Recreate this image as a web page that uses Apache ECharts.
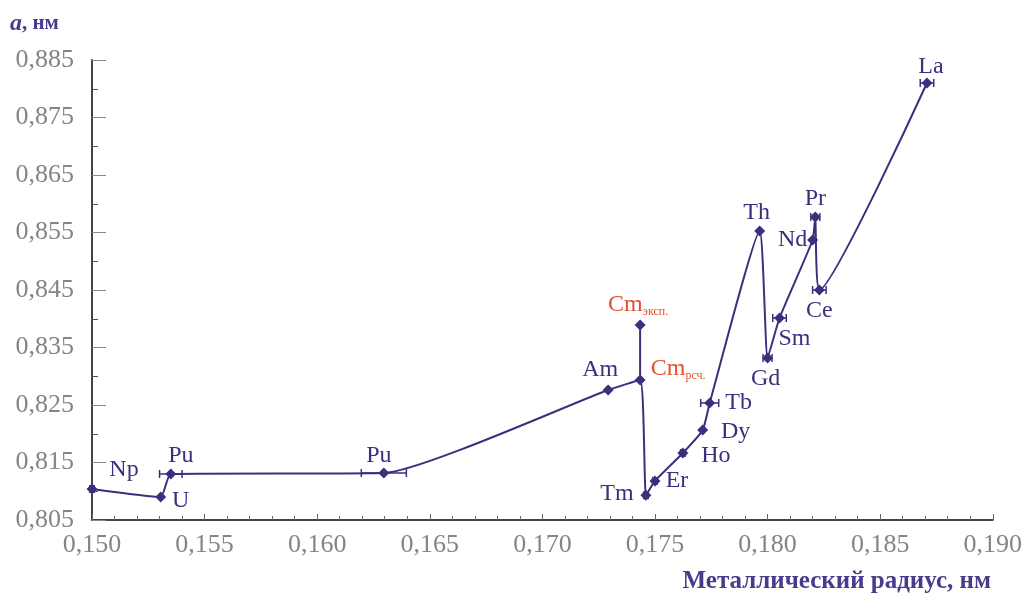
<!DOCTYPE html>
<html>
<head>
<meta charset="utf-8">
<script src="https://cdn.jsdelivr.net/npm/echarts@6/dist/echarts.min.js"></script>
<style>html,body{margin:0;padding:0;background:#fff}#c{width:1025px;height:598px}</style>
</head>
<body>
<div id="c"></div>
<script>
// ---- data ----
const names = ['Np','U','Pu','Pu','Am','Cm_calc','Tm','Er','Ho','Dy','Tb','Th','Gd','Sm','Nd','Pr','Ce','La'];
const radius = [0.1500,0.15305,0.1535,0.16296,0.17292,0.17434,0.1746,0.1750,0.17624,0.17712,0.17743,0.17965,0.1800,0.18053,0.1820,0.18212,0.1823,0.18708];
const latticeA = [0.8104,0.8090,0.8130,0.81317,0.82761,0.82935,0.8093,0.8118,0.81665,0.82065,0.82535,0.85526,0.83317,0.84013,0.8537,0.8577,0.8450,0.8810];
const radiusErr = [0.0001,0,0.0005,0.0010,0,0,0.0001,0.0001,0.0001,0,0.0004,0,0.0002,0.0003,0,0.0002,0.0003,0.0003];
const cmExpRadius = 0.17434;
const cmExpA = 0.83891;
const xTicks = {min:0.150,max:0.190,step:0.005};
const yTicks = {min:0.805,max:0.885,step:0.010};

// ---- styles (positions of labels relative to points) ----
const labelOffsets = {
  Np:[32,-19], U:[20,4], Pu0:[10,-18], Pu1:[-5,-17], Am:[-8,-20], Cm_calc:[38,-11],
  Tm:[-29,-2], Er:[22,0], Ho:[33,3], Dy:[33,2], Tb:[29,0], Th:[-3,-18], Gd:[-2,21],
  Sm:[15,21], Nd:[-20,0], Pr:[0,-18], Ce:[0,21], La:[4,-16]
};
const ink = '#3b2f7e';
const red = '#e2502a';
const serif = '"Liberation Serif","DejaVu Serif",serif';
const LFS = 24;

let puCount = 0;
const richCm = {m:{color:red,fontFamily:serif,fontSize:LFS}, s:{color:red,fontFamily:serif,fontSize:12,padding:[14,0,0,0]}};
const mainData = names.map((n,i)=>{
  let key = n;
  if (n==='Pu') { key = 'Pu'+puCount; puCount++; }
  const off = labelOffsets[key] || [0,-16];
  const isCm = n==='Cm_calc';
  return {
    value:[radius[i], latticeA[i]],
    label:{
      show:true, position:'inside', offset:off,
      formatter: isCm ? '{m|Cm}{s|рсч.}' : n,
      color: isCm ? red : ink,
      fontFamily: serif, fontSize: LFS,
      rich: isCm ? richCm : undefined
    }
  };
});

const fmt = v => v.toFixed(3).replace('.',',');

const errData = radius.map((r,i)=>[r, latticeA[i], radiusErr[i]]).filter(d=>d[2]>0);

const chart = echarts.init(document.getElementById('c'), null, {renderer:'canvas'});
chart.setOption({
  animation:false,
  backgroundColor:'#fff',
  grid:{left:92, right:32, top:60, bottom:78, containLabel:false},
  xAxis:{
    type:'value', min:xTicks.min, max:xTicks.max, interval:xTicks.step,
    axisLine:{show:true, onZero:false, lineStyle:{color:'#444', width:2}},
    axisTick:{show:true, inside:true, length:6, lineStyle:{color:'#666'}},
    minorTick:{show:true, splitNumber:5, length:4, lineStyle:{color:'#666'}},
    splitLine:{show:false},
    axisLabel:{formatter:fmt, color:'#858585', fontFamily:serif, fontSize:26, margin:12}
  },
  yAxis:{
    type:'value', min:yTicks.min, max:yTicks.max, interval:yTicks.step,
    axisLine:{show:true, onZero:false, lineStyle:{color:'#444', width:2}},
    axisTick:{show:true, inside:true, length:14, lineStyle:{color:'#888'}},
    minorTick:{show:true, splitNumber:2, length:6, lineStyle:{color:'#555'}},
    splitLine:{show:false},
    axisLabel:{formatter:fmt, color:'#858585', fontFamily:serif, fontSize:26, margin:18}
  },
  graphic:[
    {type:'text', left:10, top:12, style:{
      text:'{i|a}{b|, нм}', rich:{
        i:{fontFamily:serif, fontStyle:'italic', fontWeight:'bold', fontSize:24, fill:'#4a3a8c'},
        b:{fontFamily:serif, fontWeight:'bold', fontSize:21, fill:'#4a3a8c'}
      }}},
    {type:'text', right:34, top:569, style:{
      text:'Металлический радиус, нм', fontFamily:serif, fontWeight:'bold', fontSize:25, fill:'#4a3a8c'}}
  ],
  series:[
    {
      type:'line', data:mainData, smooth:0.15,
      symbol:'diamond', symbolSize:11,
      lineStyle:{color:ink, width:2}, itemStyle:{color:ink},
      z:3
    },
    {
      type:'line',
      data:[
        {value:[cmExpRadius, cmExpA], label:{show:true, position:'inside', offset:[-2,-20],
          formatter:'{m|Cm}{s|эксп.}', rich:richCm}},
        {value:[radius[5], latticeA[5]], symbol:'none'}
      ],
      symbol:'diamond', symbolSize:11,
      lineStyle:{color:ink, width:2}, itemStyle:{color:ink}, z:3
    },
    {
      type:'custom', data:errData, z:4,
      renderItem:(params, api)=>{
        const y = api.value(1), x = api.value(0), e = api.value(2);
        const p1 = api.coord([x-e, y]), p2 = api.coord([x+e, y]);
        const cap = 4;
        return {type:'group', children:[
          {type:'line', shape:{x1:p1[0],y1:p1[1],x2:p2[0],y2:p2[1]}, style:{stroke:ink, lineWidth:1.5}},
          {type:'line', shape:{x1:p1[0],y1:p1[1]-cap,x2:p1[0],y2:p1[1]+cap}, style:{stroke:ink, lineWidth:1.5}},
          {type:'line', shape:{x1:p2[0],y1:p2[1]-cap,x2:p2[0],y2:p2[1]+cap}, style:{stroke:ink, lineWidth:1.5}}
        ]};
      }
    }
  ]
});
</script>
</body>
</html>
